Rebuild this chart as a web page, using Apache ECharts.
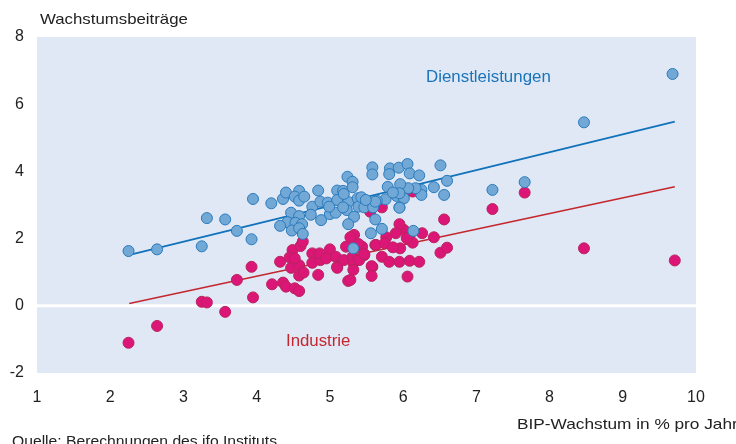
<!DOCTYPE html>
<html><head><meta charset="utf-8">
<script src="https://cdn.jsdelivr.net/npm/echarts@6/dist/echarts.min.js"></script>
<style>html,body{margin:0;padding:0;background:#fff}#c{width:736px;height:444px}</style>
</head><body><div id="c"></div>
<script>
const xTicks = [1,2,3,4,5,6,7,8,9,10];
const yTicks = [-2,0,2,4,6,8];
const dienstleistungen = [[2.25,1.63],[2.64,1.68],[3.25,1.77],[3.32,2.61],[3.57,2.57],[3.73,2.23],[3.93,1.98],[3.95,3.18],[4.20,3.05],[4.36,3.18],[4.40,3.37],[4.58,3.42],[4.52,3.25],[4.58,3.13],[4.65,3.25],[4.47,2.77],[4.58,2.67],[4.42,2.49],[4.32,2.38],[4.53,2.47],[4.62,2.43],[4.48,2.24],[4.58,2.31],[4.63,2.14],
[4.84,3.43],[4.76,2.95],[4.74,2.71],[4.88,2.55],[4.87,3.10],[4.97,3.07],[5.00,2.73],[5.08,2.77],[5.10,3.43],[5.18,3.42],[5.10,3.15],[5.24,3.84],[5.31,3.69],[5.31,3.53],[5.25,3.09],[5.23,2.85],[5.33,2.65],[5.25,2.43],[5.38,3.20],[5.39,2.95],
[5.58,4.12],[5.58,3.91],[5.82,4.09],[5.81,3.92],[5.94,4.11],[6.06,4.22],[6.09,3.94],[6.22,3.88],[6.51,4.18],[6.60,3.72],[6.42,3.53],[6.56,3.30],[6.25,3.45],[6.25,3.30],[6.17,3.50],[6.07,3.50],[5.96,3.62],[5.91,3.27],[6.01,3.20],[5.95,2.93],[5.79,3.54],[5.76,3.17],[5.64,3.13],[5.62,2.57],[5.71,2.29],[5.56,2.16],[6.14,2.23],[5.43,3.23],[5.47,2.93],[5.59,2.93],[5.95,3.35],[5.86,3.37],[5.62,3.10],[5.49,3.15],[5.95,2.92],[4.99,2.95],[5.19,3.33],[5.18,2.93],
[7.22,3.45],[7.66,3.68],[8.47,5.46],[9.68,6.90],[5.32,1.71]];
const industrie = [[2.25,-1.1],[2.64,-0.60],[3.25,0.12],[3.32,0.10],[3.57,-0.18],[3.73,0.77],[3.95,0.25],[3.93,1.16],[4.21,0.64],[4.36,0.69],[4.40,0.57],[4.52,0.52],[4.58,0.44],[4.32,1.31],[4.47,1.13],[4.58,1.21],[4.58,0.90],[4.64,0.99],[4.84,0.92],[4.49,1.66],[4.60,1.78],[4.63,1.91],[4.45,1.44],[4.52,1.41],[4.76,1.56],[4.76,1.28],[4.87,1.36],[5.00,1.68],[4.86,1.56],[4.95,1.41],[5.08,1.46],[5.10,1.16],[5.19,1.36],[5.25,0.74],[5.10,1.13],[5.22,1.76],[5.31,1.46],[5.34,1.71],[5.32,1.27],[5.32,1.07],[5.33,2.11],[5.44,1.76],[5.47,1.51],[5.40,1.36],[5.58,1.16],[5.62,1.81],[6.01,2.26],[6.09,2.11],[6.56,2.57],[5.95,2.43],[6.26,2.16],[6.42,2.04],[6.13,1.88],[5.96,1.71],[6.51,1.58],[6.60,1.73],[5.90,2.16],[5.77,2.04],[5.63,1.81],[5.75,1.86],[5.86,1.74],[6.05,2.01],[5.47,1.54],[5.28,2.04],[5.39,1.84],[5.71,1.46],[5.81,1.31],[5.95,1.31],[6.09,1.34],[6.22,1.31],[5.57,1.18],[5.57,0.89],[6.06,0.87],[5.28,0.77],[7.66,3.37],[7.22,2.88],[8.47,1.71],[9.71,1.35],[5.71,2.93],[6.13,3.40],[5.55,2.80],[5.57,2.95]];
const trendDienst = [[2.25,1.51],[9.71,5.48]];
const trendIndustrie = [[2.26,0.07],[9.71,3.54]];

const FONT = '"Liberation Sans", Arial, sans-serif';
const chart = echarts.init(document.getElementById('c'), null, {renderer:'canvas'});
chart.setOption({
  animation:false,
  grid:{left:37, right:40, top:37, bottom:71, show:true, backgroundColor:'#e1e8f5', borderWidth:0},
  xAxis:{type:'value', min:1, max:10, interval:1,
    axisLine:{show:false}, axisTick:{show:false}, splitLine:{show:false},
    axisLabel:{color:'#222', fontFamily:FONT, fontSize:16, margin:17,
      formatter:v=> xTicks.includes(v)? String(v):''}},
  yAxis:{type:'value', min:-2, max:8, interval:2,
    axisLine:{show:false}, axisTick:{show:false}, splitLine:{show:false},
    axisLabel:{color:'#222', fontFamily:FONT, fontSize:16, margin:13,
      formatter:v=> yTicks.includes(v)? String(v):''}},
  series:[
    {type:'line', data:[[1,0],[10,0]], symbol:'none', silent:true,
      lineStyle:{color:'#ffffff', width:3}, z:1},
    {type:'line', data:trendIndustrie, symbol:'none', lineStyle:{color:'#c4262e', width:1.5}, z:2},
    {type:'line', data:trendDienst, symbol:'none', lineStyle:{color:'#0f72bb', width:1.7}, z:2},
    {type:'scatter', data:industrie, symbolSize:11, z:3,
      itemStyle:{color:'#dc1677', borderColor:'#b8245e', borderWidth:1, opacity:1}},
    {type:'scatter', data:dienstleistungen, symbolSize:11, z:4,
      itemStyle:{color:'#72a8d6', borderColor:'#2a7bbd', borderWidth:1, opacity:1}}
  ],
  graphic:[
    {type:'text', x:40, y:12, scaleX:1.12, style:{text:'Wachstumsbeiträge', font:'15px '+FONT, fill:'#222'}},
    {type:'text', x:517, y:417, scaleX:1.15, style:{text:'BIP-Wachstum in % pro Jahr', font:'15px '+FONT, fill:'#222'}},
    {type:'text', x:12, y:435, scaleX:1.12, style:{text:'Quelle: Berechnungen des ifo Instituts.', font:'14px '+FONT, fill:'#222'}},
    {type:'text', x:426, y:70, scaleX:1.055, style:{text:'Dienstleistungen', font:'16px '+FONT, fill:'#1a74ba'}},
    {type:'text', x:286, y:334, scaleX:1.05, style:{text:'Industrie', font:'16px '+FONT, fill:'#c4262e'}}
  ]
});
</script></body></html>
